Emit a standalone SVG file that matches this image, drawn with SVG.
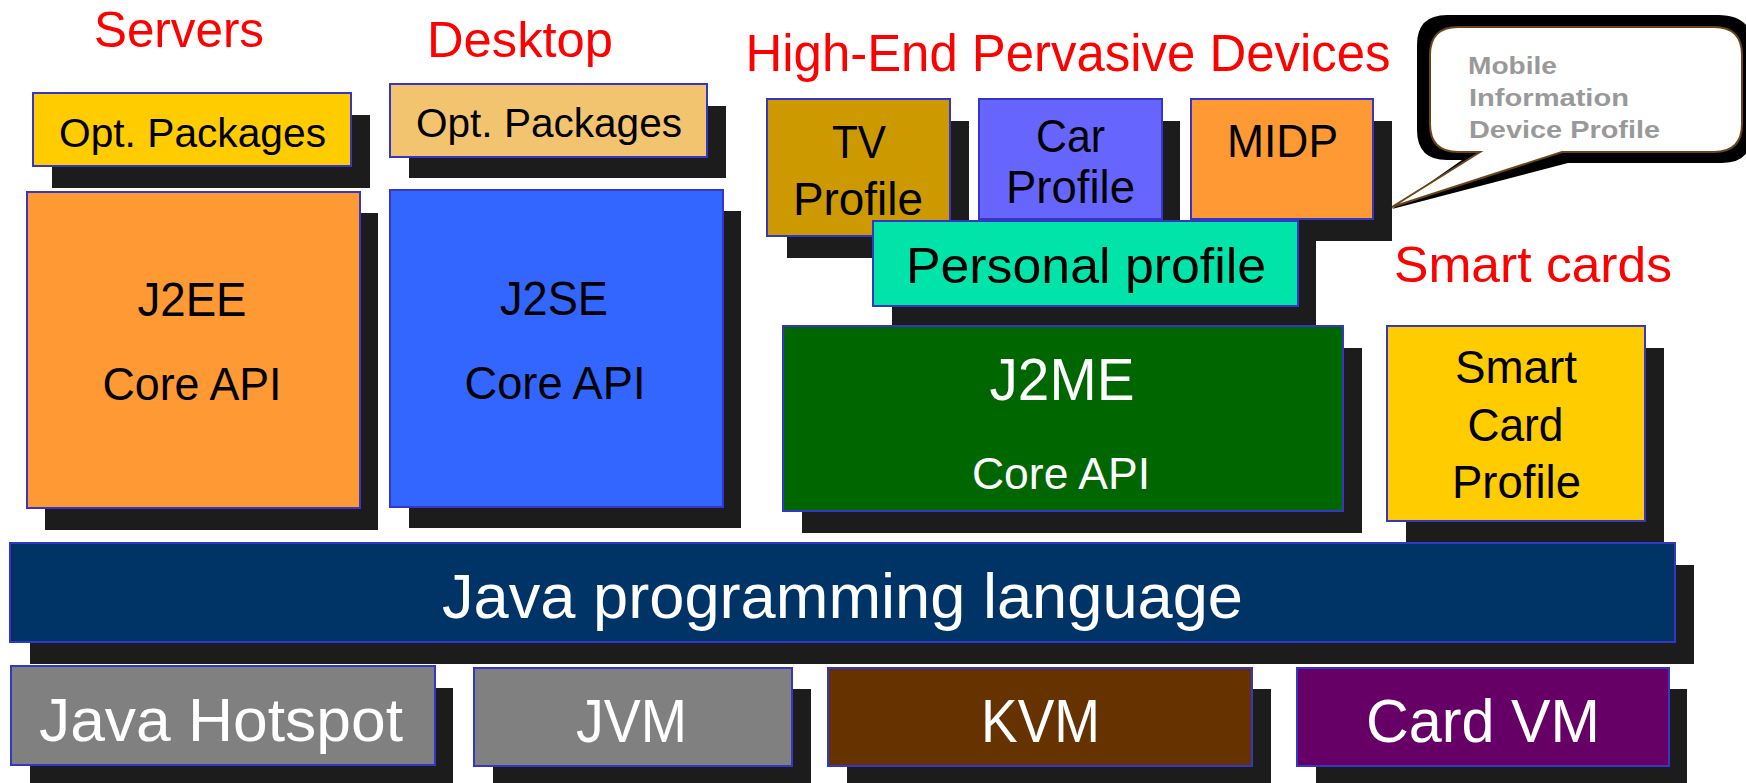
<svg xmlns="http://www.w3.org/2000/svg" width="1746" height="783" viewBox="0 0 1746 783">
<style>
.sh{fill:#1C1C1C}
.bx{stroke:#3535C8;stroke-width:2}
text{font-family:"Liberation Sans",Arial,sans-serif;text-anchor:middle;fill:#000}
.red{fill:#FF0000}
.w{fill:#FFFFFF}
.note{font-weight:bold;fill:#999999;font-size:24px;text-anchor:start}
</style>
<rect width="1746" height="783" fill="#FFFFFF"/>

<g id="labels">
<text class="red" x="179" y="47" font-size="50" textLength="170" lengthAdjust="spacingAndGlyphs">Servers</text>
<text class="red" x="520" y="57" font-size="50" textLength="186" lengthAdjust="spacingAndGlyphs">Desktop</text>
<text class="red" x="1068" y="71" font-size="51" textLength="645" lengthAdjust="spacingAndGlyphs">High-End Pervasive Devices</text>
<text class="red" x="1533" y="282" font-size="50" textLength="278" lengthAdjust="spacingAndGlyphs">Smart cards</text>
</g>

<g id="opt-servers">
<rect class="sh" x="52" y="115" width="318" height="73"/>
<rect class="bx" x="33" y="93" width="318" height="73" fill="#FFCC00"/>
<text x="192.5" y="147" font-size="40" textLength="267" lengthAdjust="spacingAndGlyphs">Opt. Packages</text>
</g>

<g id="opt-desktop">
<rect class="sh" x="409" y="106" width="317" height="72"/>
<rect class="bx" x="390" y="84" width="317" height="73" fill="#F3C470"/>
<text x="549" y="137" font-size="40" textLength="266" lengthAdjust="spacingAndGlyphs">Opt. Packages</text>
</g>

<g id="j2ee">
<rect class="sh" x="45" y="213" width="333" height="317"/>
<rect class="bx" x="27" y="192" width="333" height="316" fill="#FF9933"/>
<text x="192" y="316" font-size="49" textLength="109" lengthAdjust="spacingAndGlyphs">J2EE</text>
<text x="192" y="400" font-size="46" textLength="179" lengthAdjust="spacingAndGlyphs">Core API</text>
</g>

<g id="j2se">
<rect class="sh" x="409" y="211" width="332" height="317"/>
<rect class="bx" x="390" y="190" width="333" height="317" fill="#3366FF"/>
<text x="554" y="315" font-size="49" textLength="108" lengthAdjust="spacingAndGlyphs">J2SE</text>
<text x="555" y="399" font-size="46" textLength="181" lengthAdjust="spacingAndGlyphs">Core API</text>
</g>

<g id="tv-profile">
<rect class="sh" x="787" y="121" width="182" height="137"/>
<rect class="bx" x="767" y="99" width="183" height="137" fill="#CC9900"/>
<text x="859" y="158" font-size="47" textLength="54" lengthAdjust="spacingAndGlyphs">TV</text>
<text x="858" y="215" font-size="47" textLength="130" lengthAdjust="spacingAndGlyphs">Profile</text>
</g>

<g id="car-profile">
<rect class="sh" x="998" y="121" width="182" height="120"/>
<rect class="bx" x="979" y="99" width="183" height="120" fill="#6666FF"/>
<text x="1070.5" y="152" font-size="47" textLength="69" lengthAdjust="spacingAndGlyphs">Car</text>
<text x="1070.5" y="203" font-size="47" textLength="129" lengthAdjust="spacingAndGlyphs">Profile</text>
</g>

<g id="midp">
<rect class="sh" x="1210" y="121" width="182" height="120"/>
<rect class="bx" x="1191" y="99" width="182" height="120" fill="#FF9933"/>
<text x="1282.5" y="157" font-size="47" textLength="111" lengthAdjust="spacingAndGlyphs">MIDP</text>
</g>

<g id="personal-profile">
<rect class="sh" x="892" y="241" width="424" height="86"/>
<rect class="bx" x="873" y="221" width="425" height="85" fill="#00E3A9"/>
<text x="1086" y="283" font-size="50" textLength="360" lengthAdjust="spacingAndGlyphs">Personal profile</text>
</g>

<g id="mobile-callout">
<path fill="#000000" d="M1447,15 H1718 Q1752,15 1752,45 V133 Q1752,163 1722,163 H1568 L1392,209 L1462,160 H1447 Q1417,160 1417,130 V45 Q1417,15 1447,15 Z"/>
<path fill="#FFFFFF" stroke="#6B4418" stroke-width="2" d="M1458,27 H1714 Q1742,27 1742,55 V124 Q1742,152 1714,152 H1562 L1392,207 L1480,152 H1458 Q1430,152 1430,124 V55 Q1430,27 1458,27 Z"/>
<text class="note" x="1468" y="74" textLength="89" lengthAdjust="spacingAndGlyphs">Mobile</text>
<text class="note" x="1469" y="106" textLength="160" lengthAdjust="spacingAndGlyphs">Information</text>
<text class="note" x="1469" y="138" textLength="191" lengthAdjust="spacingAndGlyphs">Device  Profile</text>
</g>

<g id="j2me">
<rect class="sh" x="802" y="348" width="560" height="185"/>
<rect class="bx" x="783" y="326" width="560" height="185" fill="#006600"/>
<text class="w" x="1062" y="400" font-size="59" textLength="145" lengthAdjust="spacingAndGlyphs">J2ME</text>
<text class="w" x="1061" y="489" font-size="45" textLength="178" lengthAdjust="spacingAndGlyphs">Core API</text>
</g>

<g id="smart-card-profile">
<rect class="sh" x="1406" y="348" width="258" height="195"/>
<rect class="bx" x="1387" y="326" width="258" height="195" fill="#FFCC00"/>
<text x="1516" y="383" font-size="47" textLength="122" lengthAdjust="spacingAndGlyphs">Smart</text>
<text x="1515.5" y="441" font-size="47" textLength="96" lengthAdjust="spacingAndGlyphs">Card</text>
<text x="1516.5" y="498" font-size="47" textLength="129" lengthAdjust="spacingAndGlyphs">Profile</text>
</g>

<g id="java-language">
<rect class="sh" x="30" y="565" width="1664" height="99"/>
<rect class="bx" x="10" y="543" width="1665" height="99" fill="#003366"/>
<text class="w" x="842.5" y="618" font-size="63" textLength="801" lengthAdjust="spacingAndGlyphs">Java programming language</text>
</g>

<g id="java-hotspot">
<rect class="sh" x="30" y="688" width="423" height="100"/>
<rect class="bx" x="11" y="666" width="424" height="99" fill="#808080"/>
<text class="w" x="221" y="741" font-size="61" textLength="364" lengthAdjust="spacingAndGlyphs">Java Hotspot</text>
</g>

<g id="jvm">
<rect class="sh" x="493" y="689" width="318" height="100"/>
<rect class="bx" x="474" y="668" width="318" height="98" fill="#808080"/>
<text class="w" x="631.5" y="742" font-size="61" textLength="111" lengthAdjust="spacingAndGlyphs">JVM</text>
</g>

<g id="kvm">
<rect class="sh" x="847" y="689" width="424" height="100"/>
<rect class="bx" x="828" y="668" width="424" height="98" fill="#663300"/>
<text class="w" x="1040.5" y="742" font-size="61" textLength="119" lengthAdjust="spacingAndGlyphs">KVM</text>
</g>

<g id="card-vm">
<rect class="sh" x="1316" y="689" width="371" height="100"/>
<rect class="bx" x="1297" y="668" width="372" height="98" fill="#660066"/>
<text class="w" x="1483" y="742" font-size="61" textLength="234" lengthAdjust="spacingAndGlyphs">Card VM</text>
</g>

<g id="connectors"></g>
</svg>
